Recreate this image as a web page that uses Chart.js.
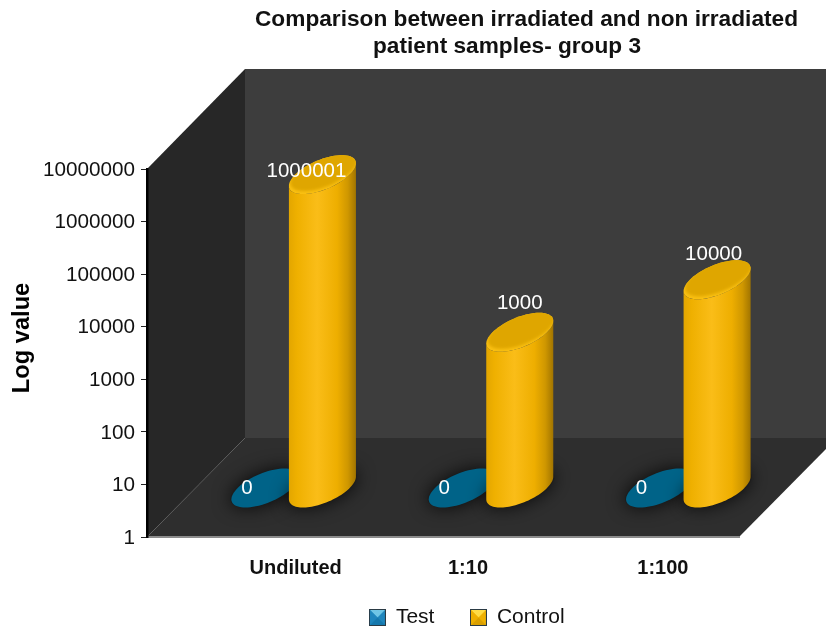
<!DOCTYPE html>
<html>
<head>
<meta charset="utf-8">
<style>html,body{margin:0;padding:0;background:#fff;overflow:hidden}canvas{display:block}</style>
<script src="https://cdn.jsdelivr.net/npm/chart.js@4"></script>
</head>
<body>
<canvas id="c" width="826" height="627"></canvas>
<script>
const categories = ['Undiluted', '1:10', '1:100'];
const testValues = [0, 0, 0];
const controlValues = [1000001, 1000, 10000];
const yTickValues = [1, 10, 100, 1000, 10000, 100000, 1000000, 10000000];
const titleLines = ['Comparison between irradiated and non irradiated', 'patient samples- group 3'];

const FONT = '"Liberation Sans", Helvetica, Arial, sans-serif';
const DEPTH = 98;             // oblique depth of the 3D box
const MARK_DX = 48;           // marks stand mid-way into the box
const MARK_DY = 49;
const CAP_DY = 47;            // cylinder tops sit slightly lower than the mid-depth line
const ELLIPSE_DY = 19.5;      // vertical half-extent of a cylinder cap
const xLabelShift = [50, 25, 22.5];
const testLabelOffset = [[-18, 0], [-18, 0], [-18, 0]];
const controlLabelOffset = [[-16, -1], [0, -27], [-3.5, -23]];

// Path along a tilted cap: circle on the floor plane under oblique projection.
function capPoint(cx, cy, w, t) {
  const r = Math.sqrt(w * w - ELLIPSE_DY * ELLIPSE_DY);
  return [cx + r * Math.cos(t) + ELLIPSE_DY * Math.sin(t), cy - ELLIPSE_DY * Math.sin(t)];
}
function tangentAngle(w) {
  return Math.atan2(ELLIPSE_DY, Math.sqrt(w * w - ELLIPSE_DY * ELLIPSE_DY));
}
function traceCap(ctx, cx, cy, w) {
  ctx.beginPath();
  for (let i = 0; i <= 72; i++) {
    const p = capPoint(cx, cy, w, i / 72 * Math.PI * 2);
    i ? ctx.lineTo(p[0], p[1]) : ctx.moveTo(p[0], p[1]);
  }
  ctx.closePath();
}
function traceBody(ctx, cx, top, bottom, w) {
  const t0 = tangentAngle(w);
  ctx.beginPath();
  for (let i = 0; i <= 48; i++) {
    const p = capPoint(cx, bottom, w, t0 - i / 48 * Math.PI);
    i ? ctx.lineTo(p[0], p[1]) : ctx.moveTo(p[0], p[1]);
  }
  for (let i = 0; i <= 48; i++) {
    const p = capPoint(cx, top, w, t0 + Math.PI + i / 48 * Math.PI);
    ctx.lineTo(p[0], p[1]);
  }
  ctx.closePath();
}

function drawFloorShadow(ctx, cx, cy, w) {
  ctx.save();
  ctx.shadowColor = 'rgba(0,0,0,0.8)';
  ctx.shadowBlur = 18;
  ctx.fillStyle = '#1d1d1d';
  traceCap(ctx, cx, cy, w + 1);
  ctx.fill();
  ctx.restore();
}

function drawCylinder(ctx, el) {
  const w = el.width / 2;
  const cx = el.x + MARK_DX;
  const top = el.y - CAP_DY;
  const bottom = el.base - MARK_DY;
  drawFloorShadow(ctx, cx, bottom, w);
  const g = ctx.createLinearGradient(cx - w, 0, cx + w, 0);
  g.addColorStop(0, '#e3a600');
  g.addColorStop(0.12, '#efb000');
  g.addColorStop(0.42, '#fabd18');
  g.addColorStop(0.72, '#eeae00');
  g.addColorStop(0.88, '#cf9700');
  g.addColorStop(1, '#a27500');
  ctx.fillStyle = g;
  traceBody(ctx, cx, top, bottom, w);
  ctx.fill();
  // Top cap: bright rim along the lower edge, fading into a darker face
  ctx.fillStyle = '#fac012';
  traceCap(ctx, cx, top, w);
  ctx.fill();
  ctx.save();
  traceCap(ctx, cx, top, w);
  ctx.clip();
  ctx.filter = 'blur(1.5px)';
  ctx.fillStyle = '#dfa600';
  traceCap(ctx, cx + 1.5, top - 3, w);
  ctx.fill();
  ctx.restore();
}

function makeSwatch(face, light, dark, side) {
  const s = document.createElement('canvas');
  s.width = 17; s.height = 17;
  const c = s.getContext('2d');
  c.fillStyle = '#2a3a44';
  c.fillRect(0, 0, 17, 17);
  const tri = (col, pts) => {
    c.fillStyle = col;
    c.beginPath();
    pts.forEach((p, i) => i ? c.lineTo(p[0], p[1]) : c.moveTo(p[0], p[1]));
    c.closePath();
    c.fill();
  };
  tri(face, [[1, 1], [16, 1], [16, 16], [1, 16]]);
  tri(light, [[1, 1], [16, 1], [8.5, 8.5]]);
  tri(dark, [[1, 16], [16, 16], [8.5, 8.5]]);
  tri(side, [[1, 1], [1, 16], [8.5, 8.5]]);
  return s;
}
const testSwatch = makeSwatch('#1f86bd', '#6fc6e6', '#1578ad', '#1f86bd');
const controlSwatch = makeSwatch('#eeb000', '#ffdc45', '#d99f00', '#eeb000');

const scene = {
  id: 'scene',
  afterLayout(chart) {
    // Heading lines are placed over the back wall, legend over the floor.
    const head = chart.titleBlock;
    head.left = 255; head.right = 798;
    const sub = chart.boxes.find(b => b !== head && b.options && b.options.text === titleLines[1]);
    if (sub) { sub.left = 373; sub.right = 641; }
    const l = chart.legend;
    l.left += 97.5; l.right += 97.5;
    l.top = 571; l.bottom = 661;
    // Room for the category labels below the axis line.
    chart.scales.x.bottom = 600;
  },
  beforeDraw(chart) {
    const { ctx, chartArea: a } = chart;
    const d = DEPTH, dy = DEPTH + 1;
    const poly = (col, pts) => {
      ctx.fillStyle = col;
      ctx.beginPath();
      pts.forEach((p, i) => i ? ctx.lineTo(p[0], p[1]) : ctx.moveTo(p[0], p[1]));
      ctx.closePath();
      ctx.fill();
    };
    ctx.save();
    const backTop = Math.round(a.top - dy - 1), backBottom = Math.round(a.bottom - dy);
    poly('#3d3d3d', [[a.left + d, backTop], [a.right + d, backTop], [a.right + d, backBottom], [a.left + d, backBottom]]);
    poly('#272727', [[a.left, a.top], [a.left + d, backTop], [a.left + d, backBottom], [a.left, a.bottom]]);
    poly('#2e2e2e', [[a.left, a.bottom], [a.left + d, backBottom], [a.right + d, backBottom], [a.right, a.bottom]]);
    ctx.restore();

    // Category labels sit on the axis, each with its own horizontal nudge.
    chart.scales.x.getLabelItems().forEach((it, i) => {
      if (!it.nudged) {
        it.options.translation[0] += xLabelShift[i];
        it.nudged = true;
      }
    });
    chart.scales.y.getLabelItems().forEach(it => {
      if (!it.nudged) {
        it.options.translation[1] += 1;
        it.nudged = true;
      }
    });
  },
  afterDatasetsDraw(chart) {
    const { ctx } = chart;
    const test = chart.getDatasetMeta(0).data;
    const control = chart.getDatasetMeta(1).data;
    test.forEach(el => {
      const w = el.width / 2, cx = el.x + MARK_DX, cy = el.base - MARK_DY;
      drawFloorShadow(ctx, cx, cy, w);
      ctx.fillStyle = '#006388';
      traceCap(ctx, cx, cy, w);
      ctx.fill();
    });
    control.forEach(el => drawCylinder(ctx, el));

    ctx.save();
    ctx.fillStyle = '#ffffff';
    ctx.font = '20.5px ' + FONT;
    ctx.textAlign = 'center';
    ctx.textBaseline = 'middle';
    test.forEach((el, i) => {
      ctx.fillText(String(testValues[i]), el.x + MARK_DX + testLabelOffset[i][0], el.y - MARK_DY + testLabelOffset[i][1]);
    });
    control.forEach((el, i) => {
      ctx.fillText(String(controlValues[i]), el.x + MARK_DX + controlLabelOffset[i][0], el.y - MARK_DY + controlLabelOffset[i][1]);
    });
    ctx.restore();

    // Value-axis title
    ctx.save();
    ctx.translate(22, 338);
    ctx.rotate(-Math.PI / 2);
    ctx.fillStyle = '#000';
    ctx.font = 'bold 23.7px ' + FONT;
    ctx.textAlign = 'center';
    ctx.textBaseline = 'middle';
    ctx.fillText('Log value', 0, 0);
    ctx.restore();
  }
};

new Chart(document.getElementById('c'), {
  type: 'bar',
  data: {
    labels: categories,
    datasets: [
      { label: 'Test', data: testValues, backgroundColor: 'transparent', swatch: testSwatch },
      { label: 'Control', data: controlValues, backgroundColor: 'transparent', swatch: controlSwatch }
    ]
  },
  plugins: [scene],
  options: {
    responsive: false,
    animation: false,
    events: [],
    categoryPercentage: 0.583,
    barPercentage: 1.165,
    layout: { autoPadding: false, padding: { left: 0, right: 87, top: 0, bottom: 0 } },
    plugins: {
      tooltip: { enabled: false },
      title: {
        display: true,
        text: titleLines[0],
        color: '#111',
        font: { family: FONT, size: 22.7, weight: 'bold', lineHeight: 1.19 },
        padding: { top: 6.5, bottom: 0 }
      },
      subtitle: {
        display: true,
        text: titleLines[1],
        color: '#111',
        font: { family: FONT, size: 22.7, weight: 'bold', lineHeight: 1.19 },
        padding: { top: 0, bottom: 108.5 }
      },
      legend: {
        position: 'bottom',
        labels: {
          usePointStyle: true,
          boxWidth: 16,
          padding: 36,
          color: '#111',
          font: { family: FONT, size: 21 },
          generateLabels: chart => chart.data.datasets.map((ds, i) => ({
            text: ds.label, pointStyle: ds.swatch, datasetIndex: i, fontColor: '#111'
          }))
        }
      }
    },
    scales: {
      x: {
        type: 'category',
        offset: true,
        afterFit: s => { s.height = 23; },
        grid: { drawOnChartArea: false, drawTicks: false },
        border: { color: '#8c8c8c', width: 2 },
        ticks: {
          padding: 19,
          maxRotation: 0,
          color: '#111',
          font: { family: FONT, size: 20, weight: 'bold' }
        }
      },
      y: {
        type: 'logarithmic',
        min: 1,
        max: 10000000,
        afterFit: s => { s.width = 147; },
        afterBuildTicks: s => { s.ticks = yTickValues.map(v => ({ value: v })); },
        grid: { drawOnChartArea: false, tickLength: 6, tickColor: '#222', lineWidth: 1 },
        border: { color: '#000', width: 2.5 },
        ticks: {
          autoSkip: false,
          padding: 6,
          color: '#111',
          font: { family: FONT, size: 20.7 },
          callback: v => String(v)
        }
      }
    }
  }
});
</script>
</body>
</html>
